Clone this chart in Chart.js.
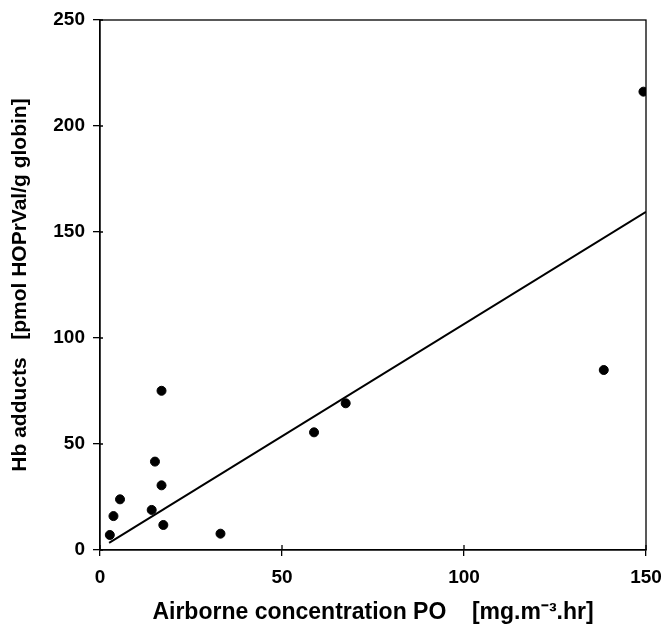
<!DOCTYPE html>
<html>
<head>
<meta charset="utf-8">
<script src="https://cdn.jsdelivr.net/npm/chart.js@4"></script>
<style>
  html, body { margin: 0; padding: 0; background: #fff; }
  #wrap { width: 661px; height: 635px; }
</style>
</head>
<body>
<div id="wrap"><canvas id="adductChart"></canvas></div>
<script>
// measured points: airborne PO exposure vs Hb adducts
const exposure = [2.7, 3.7, 5.5, 14.2, 15.1, 16.9, 16.9, 17.4, 33.1, 58.8, 67.5, 138.4, 149.3];
const adducts = [7.1, 16, 23.9, 18.9, 41.7, 75.1, 30.5, 11.8, 7.7, 55.5, 69.2, 84.9, 216.2];

// regression line end points
const fitX = [2.5, 150];
const fitY = [3.4, 159.5];

const xTicks = [0, 50, 100, 150];
const yTicks = [0, 50, 100, 150, 200, 250];

const tickFont = { family: 'Liberation Sans, Arial, sans-serif', size: 19, weight: 'bold' };
const xTitleFont = { family: 'Liberation Sans, Arial, sans-serif', size: 23, weight: 'bold' };
const yTitleFont = { family: 'Liberation Sans, Arial, sans-serif', size: 21, weight: 'bold' };

// frame round the plot plus the inner half of each tick mark
const framePlugin = {
  id: 'frame',
  afterDraw(chart) {
    const { ctx, chartArea: a, scales } = chart;
    ctx.save();
    ctx.strokeStyle = '#000';
    ctx.lineWidth = 1.3;
    ctx.strokeRect(a.left, a.top, a.right - a.left, a.bottom - a.top);
    ctx.beginPath();
    xTicks.forEach((v) => {
      const px = scales.x.getPixelForValue(v);
      ctx.moveTo(px, a.bottom);
      ctx.lineTo(px, a.bottom - 5);
    });
    yTicks.forEach((v) => {
      const py = scales.y.getPixelForValue(v);
      ctx.moveTo(a.left, py);
      ctx.lineTo(a.left + 3, py);
    });
    ctx.stroke();
    ctx.restore();
  }
};

document.addEventListener('DOMContentLoaded', () => {
  const canvas = document.getElementById('adductChart');
  const points = exposure.map((x, i) => ({ x, y: adducts[i] }));
  const fit = fitX.map((x, i) => ({ x, y: fitY[i] }));

  new Chart(canvas, {
    type: 'scatter',
    data: {
      datasets: [
        {
          label: 'Hb adducts',
          data: points,
          backgroundColor: '#000',
          borderColor: '#000',
          pointRadius: 4.5,
          pointHoverRadius: 4.5
        },
        {
          label: 'fit',
          type: 'line',
          data: fit,
          borderColor: '#000',
          borderWidth: 2,
          pointRadius: 0,
          fill: false
        }
      ]
    },
    options: {
      responsive: true,
      maintainAspectRatio: false,
      animation: false,
      events: [],
      layout: { padding: { top: 20, right: 15, left: 0, bottom: 0 } },
      plugins: {
        legend: { display: false },
        tooltip: { enabled: false }
      },
      scales: {
        x: {
          type: 'linear',
          min: 0,
          max: 150,
          afterBuildTicks: (s) => { s.ticks = xTicks.map((v) => ({ value: v })); },
          afterFit: (s) => {
            s.height = 85;
            s.paddingLeft = 0;
            s.paddingRight = 0;
          },
          grid: { drawOnChartArea: false, drawTicks: true, tickLength: 6, color: '#000', lineWidth: 1.3 },
          border: { display: true, color: '#000', width: 1.3 },
          ticks: { color: '#000', font: tickFont, padding: 10, maxRotation: 0 },
          title: {
            display: true,
            text: 'Airborne concentration PO    [mg.m\u207B\u00B3.hr]',
            color: '#000',
            font: xTitleFont,
            padding: { top: 12, bottom: 9 }
          }
        },
        y: {
          type: 'linear',
          min: 0,
          max: 250,
          afterBuildTicks: (s) => { s.ticks = yTicks.map((v) => ({ value: v })); },
          afterFit: (s) => {
            s.width = 100;
            s.paddingTop = 0;
            s.paddingBottom = 0;
          },
          grid: { drawOnChartArea: false, drawTicks: true, tickLength: 7, color: '#000', lineWidth: 1.3 },
          border: { display: true, color: '#000', width: 1.3 },
          ticks: { color: '#000', font: tickFont, padding: 8 },
          title: {
            display: true,
            text: 'Hb adducts   [pmol HOPrVal/g globin]',
            color: '#000',
            font: yTitleFont,
            padding: { top: 8, bottom: 10 }
          }
        }
      }
    },
    plugins: [framePlugin]
  });
});
</script>
</body>
</html>
